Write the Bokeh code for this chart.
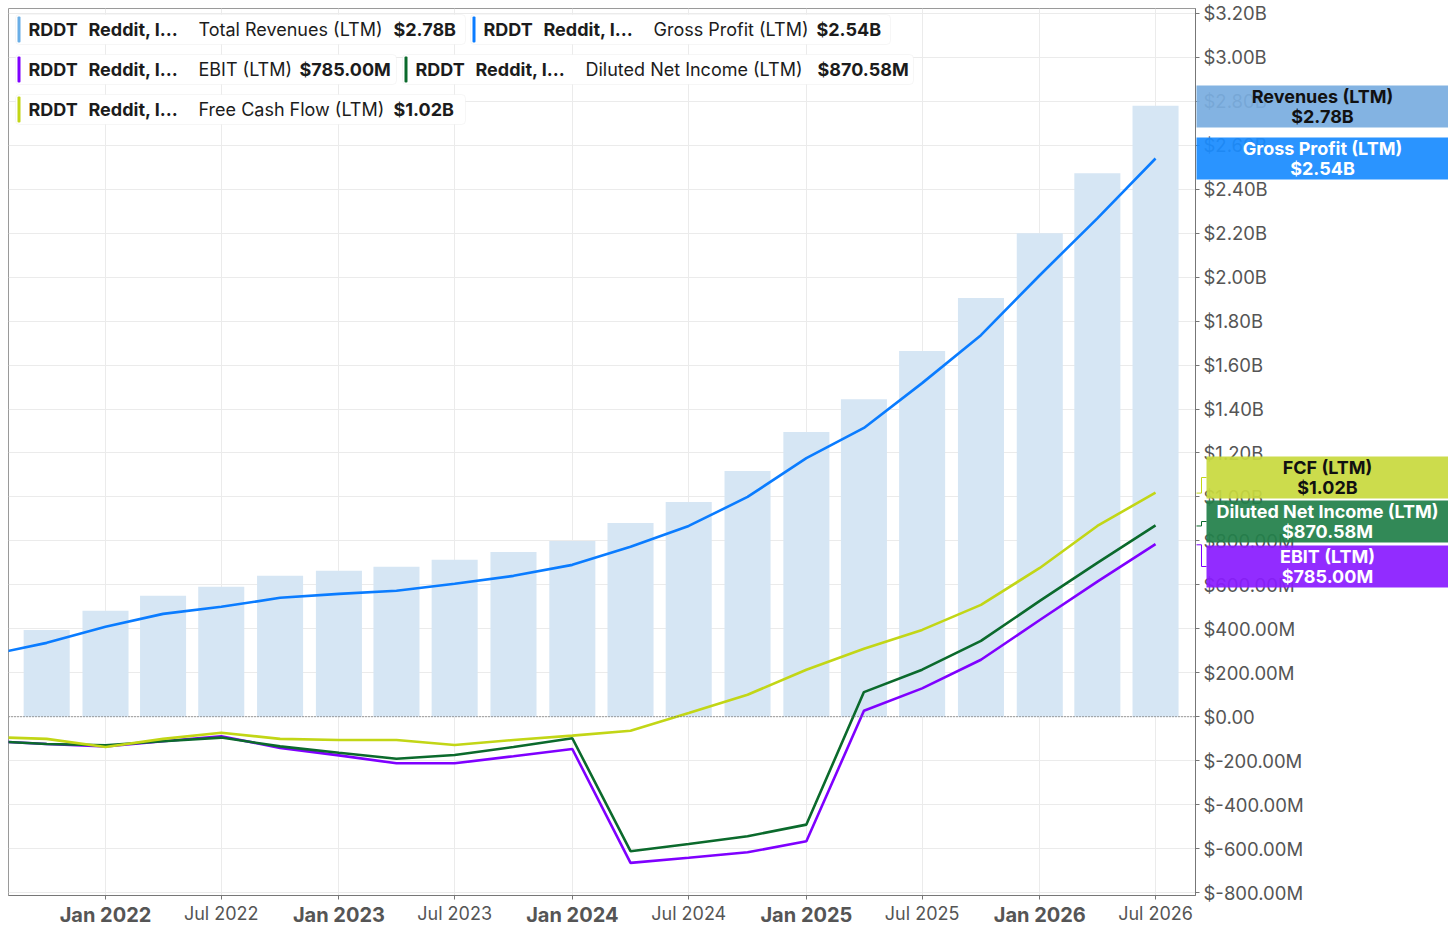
import datetime as dt

from bokeh.plotting import figure
from bokeh.models import (Range1d, FixedTicker, BoxAnnotation, Label, Span,
                          ColumnDataSource, DatetimeTickFormatter, GridBox)
from bokeh.core.properties import value
from bokeh.embed import file_html
from bokeh.resources import INLINE

# LTM values in $M, one point per quarter (first one sits just left of the window)
dates = ["2021-07-01", "2021-10-01", "2022-01-01", "2022-04-01", "2022-07-01",
         "2022-10-01", "2023-01-01", "2023-04-01", "2023-07-01", "2023-10-01",
         "2024-01-01", "2024-04-01", "2024-07-01", "2024-10-01", "2025-01-01",
         "2025-04-01", "2025-07-01", "2025-10-01", "2026-01-01", "2026-04-01",
         "2026-07-01"]
revenue_dates = dates[1:]
revenue = [395, 482, 550, 591, 641, 664, 682, 714, 750, 800,
           882, 977, 1118, 1295, 1445, 1664, 1905, 2200, 2473, 2780]
gross_profit = [280, 336, 409, 468, 500, 541, 559, 573, 605, 641, 691,
                773, 868, 1000, 1177, 1314, 1518, 1736, 2009, 2268, 2540]
ebit = [-110, -124, -135, -112, -89, -142, -176, -212, -212, -180, -147,
        -665, -642, -617, -567, 27, 129, 259, 440, 615, 785]
net_income = [-110, -124, -130, -112, -95, -135, -164, -191, -174, -138, -98,
              -612, -579, -544, -491, 112, 214, 345, 527, 700, 870.58]
fcf = [-92, -101, -138, -101, -73, -101, -106, -106, -129, -106, -86,
       -64, 17, 100, 214, 309, 395, 509, 677, 868, 1020]

jan_ticks = ["2022-01-01", "2023-01-01", "2024-01-01", "2025-01-01", "2026-01-01"]
jul_ticks = ["2022-07-01", "2023-07-01", "2024-07-01", "2025-07-01", "2026-07-01"]
jul_labels = ["Jul 2022", "Jul 2023", "Jul 2024", "Jul 2025", "Jul 2026"]

y_ticks = [-800, -600, -400, -200, 0, 200, 400, 600, 800, 1000, 1200, 1400,
           1600, 1800, 2000, 2200, 2400, 2600, 2800, 3000, 3200]
y_tick_labels = ["$-800.00M", "$-600.00M", "$-400.00M", "$-200.00M", "$0.00",
                 "$200.00M", "$400.00M", "$600.00M", "$800.00M", "$1.00B",
                 "$1.20B", "$1.40B", "$1.60B", "$1.80B", "$2.00B", "$2.20B",
                 "$2.40B", "$2.60B", "$2.80B", "$3.00B", "$3.20B"]

ticker_name = "RDDT"
company = "Reddit, I…"
legend_names = ["Total Revenues (LTM)", "Gross Profit (LTM)", "EBIT (LTM)",
                "Diluted Net Income (LTM)", "Free Cash Flow (LTM)"]
legend_values = ["$2.78B", "$2.54B", "$785.00M", "$870.58M", "$1.02B"]

box_names = ["Revenues (LTM)", "Gross Profit (LTM)", "FCF (LTM)",
             "Diluted Net Income (LTM)", "EBIT (LTM)"]
box_values = ["$2.78B", "$2.54B", "$1.02B", "$870.58M", "$785.00M"]
box_true = [2780, 2540, 1020, 870.58, 785]   # where each series ends

REV_C = "#d6e6f4"
GP_C = "#0a7cff"
EBIT_C = "#7f00ff"
NI_C = "#0b6a2c"
FCF_C = "#c2d616"
FONT = "Inter"
W, H = 1448, 929
Y_LO, Y_HI = -813.6, 3222.7


def to_dt(s):
    return dt.datetime.strptime(s, "%Y-%m-%d")


def to_ms(s):
    return (to_dt(s) - dt.datetime(1970, 1, 1)).total_seconds() * 1000.0


x_lo = to_dt("2022-01-01") - dt.timedelta(days=151.7)
x_hi = to_dt("2026-07-01") + dt.timedelta(days=62.5)
px_per_day = 1187 / ((x_hi - x_lo).total_seconds() / 86400)
val_per_px = (Y_HI - Y_LO) / 888


def px_date(px):
    # page pixel column -> date on the main plot's scale
    return x_lo + dt.timedelta(days=(px - 8) / px_per_day)


def px_val(py):
    return Y_HI - (py - 8) * val_per_px


# page pixel -> frame screen units (frame sits at x 8..1195, y 8..896)
def sx(px):
    return px - 8


def sy(py):
    return 896 - py


p = figure(width=W, height=H, x_axis_type="datetime",
           y_axis_location="right",
           x_range=Range1d(x_lo, x_hi), y_range=Range1d(Y_LO, Y_HI),
           output_backend="svg", toolbar_location=None,
           min_border_left=8, min_border_top=8,
           min_border_right=253, min_border_bottom=33)
p.frame_align = False
p.outline_line_color = "#9a9a9a"
p.border_fill_color = "white"

bars = ColumnDataSource(data={"date": [to_dt(d) for d in revenue_dates],
                              "rev": revenue})
lines = ColumnDataSource(data={"date": [to_dt(d) for d in dates],
                               "gp": gross_profit, "ebit": ebit,
                               "ni": net_income, "fcf": fcf})

p.vbar(x="date", top="rev", bottom=0, width=72 * 86400000.0,
       fill_color=REV_C, line_color=None, source=bars)
p.line("date", "ebit", line_width=2.6, color=EBIT_C, source=lines)
p.line("date", "ni", line_width=2.6, color=NI_C, source=lines)
p.line("date", "fcf", line_width=2.6, color=FCF_C, source=lines)
p.line("date", "gp", line_width=2.6, color=GP_C, source=lines)

p.add_layout(Span(location=0, dimension="width", line_color="#666666",
                  line_dash="1 2", line_width=1.3))

# axes
p.xaxis.ticker = FixedTicker(ticks=[to_ms(d) for d in jan_ticks],
                             minor_ticks=[to_ms(d) for d in jul_ticks])
p.xaxis.formatter = DatetimeTickFormatter(days="%b %Y", months="%b %Y",
                                          years="%b %Y")
p.xaxis.major_label_text_font = FONT
p.xaxis.major_label_text_font_size = "20px"
p.xaxis.major_label_text_font_style = "bold"
p.xaxis.major_label_text_color = "#555555"
p.xaxis.major_tick_out = 4
p.xaxis.major_tick_in = 0
p.xaxis.minor_tick_out = 4
p.xaxis.minor_tick_in = 0
p.xaxis.major_label_standoff = 3
p.xaxis.axis_line_color = "#777777"
p.xaxis.major_tick_line_color = "#777777"
p.xaxis.minor_tick_line_color = "#777777"
p.xgrid.ticker = FixedTicker(ticks=[to_ms(d) for d in jan_ticks + jul_ticks])
p.xgrid.grid_line_color = "#ebebeb"

p.yaxis.ticker = FixedTicker(ticks=y_ticks)
p.yaxis.major_label_overrides = dict(zip(y_ticks, y_tick_labels))
p.yaxis.major_label_text_font = FONT
p.yaxis.major_label_text_font_size = "18.5px"
p.yaxis.major_label_text_color = "#555555"
p.yaxis.major_tick_out = 4
p.yaxis.major_tick_in = 0
p.yaxis.minor_tick_line_color = None
p.yaxis.major_label_standoff = 4
p.yaxis.axis_line_color = "#777777"
p.yaxis.major_tick_line_color = "#777777"
p.ygrid.grid_line_color = "#ebebeb"

# legend chips at the top left: (left, right, top, bottom, value x)
legend_colors = ["#6aaee6", GP_C, EBIT_C, NI_C, FCF_C]
legend_layout = [(15, 465, 15, 45, 393), (470, 890, 15, 45, 816),
                 (15, 396, 55, 85, 299), (402, 913, 55, 85, 817),
                 (15, 465, 95, 125, 393)]
for (l, r, t, b, vx), c, name, val in zip(legend_layout, legend_colors,
                                         legend_names, legend_values):
    p.add_layout(BoxAnnotation(left=sx(l), right=sx(r), top=sy(t), bottom=sy(b),
                               left_units="screen", right_units="screen",
                               top_units="screen", bottom_units="screen",
                               fill_color="white", fill_alpha=1.0,
                               line_color="#e2e2e2", line_width=1,
                               border_radius=4))
    p.add_layout(BoxAnnotation(left=sx(l + 2), right=sx(l + 5), top=sy(t + 2),
                               bottom=sy(b - 2),
                               left_units="screen", right_units="screen",
                               top_units="screen", bottom_units="screen",
                               fill_color=c, fill_alpha=1.0, line_color=None,
                               border_radius=1))
    cy = sy((t + b) / 2)
    for tx, txt, style in [(l + 13, ticker_name, "bold"),
                           (l + 73, company, "bold"),
                           (l + 183, name, "normal"), (vx, val, "bold")]:
        p.add_layout(Label(x=sx(tx), y=cy, x_units="screen", y_units="screen",
                           text=txt, text_font=FONT, text_font_size="18px",
                           text_font_style=style, text_color="#1c1c1c",
                           text_baseline="middle", text_align="left"))

# transparent overlay figure covering the whole canvas: value boxes right of
# the axis and the July labels, drawn on the same date / value scales
ov = figure(width=W, height=H, output_backend="svg", toolbar_location=None,
            x_axis_location=None, y_axis_location=None,
            x_range=Range1d(px_date(0), px_date(W)),
            y_range=Range1d(px_val(H), px_val(0)),
            min_border_left=0, min_border_right=0, min_border_top=0,
            min_border_bottom=0)
ov.frame_align = False
ov.background_fill_alpha = 0
ov.border_fill_alpha = 0
ov.outline_line_color = None
ov.grid.visible = False

ov.text(x=[to_dt(d) for d in jul_ticks], y=[Y_LO] * len(jul_ticks),
        text=jul_labels, y_offset=17, text_align="center",
        text_baseline="middle", text_font=value(FONT),
        text_font_size=value("18px"), text_color="#555555")

# value boxes: (left px, centre y px, fill, text colour)
box_layout = [(1196, 106, "#7aade0", "#111111"),
              (1196, 158, "#1a8cff", "white"),
              (1206, 477, "#c8d93e", "#111111"),
              (1206, 521, "#22804a", "white"),
              (1206, 566, "#8a1cff", "white")]
bx = ColumnDataSource(data={
    "x": [px_date((l + W) / 2) for l, _, _, _ in box_layout],
    "y": [px_val(cy) for _, cy, _, _ in box_layout],
    "w": [W - l for l, _, _, _ in box_layout],
    "fill": [f for _, _, f, _ in box_layout],
    "tc": [t for _, _, _, t in box_layout],
    "name": box_names, "val": box_values})
ov.rect(x="x", y="y", width="w", height=42, width_units="screen",
        height_units="screen", fill_color="fill", fill_alpha=0.93,
        line_color=None, source=bx)
ov.text(x="x", y="y", text="name", y_offset=-10, text_align="center",
        text_baseline="middle", text_font=value(FONT),
        text_font_size=value("18px"), text_font_style="bold",
        text_color="tc", source=bx)
ov.text(x="x", y="y", text="val", y_offset=10, text_align="center",
        text_baseline="middle", text_font=value(FONT),
        text_font_size=value("18px"), text_font_style="bold",
        text_color="tc", source=bx)

# small step connectors from the axis to the shifted boxes
cx0, cx1, cy0, cy1, cc = [], [], [], [], []
for (l, cy, _, _), tv, c in zip(box_layout[2:], box_true[2:],
                                [FCF_C, NI_C, EBIT_C]):
    bv = px_val(cy)
    for a, b, v0, v1 in [(1196, 1201, tv, tv), (1201, 1201, tv, bv),
                         (1201, 1206, bv, bv)]:
        cx0.append(px_date(a))
        cx1.append(px_date(b))
        cy0.append(v0)
        cy1.append(v1)
        cc.append(c)
ov.segment(x0=cx0, y0=cy0, x1=cx1, y1=cy1, line_color=cc, line_width=1)

layout = GridBox(children=[(p, 0, 0), (ov, 0, 0)])

open("out.html", "w").write(file_html(layout, INLINE))
